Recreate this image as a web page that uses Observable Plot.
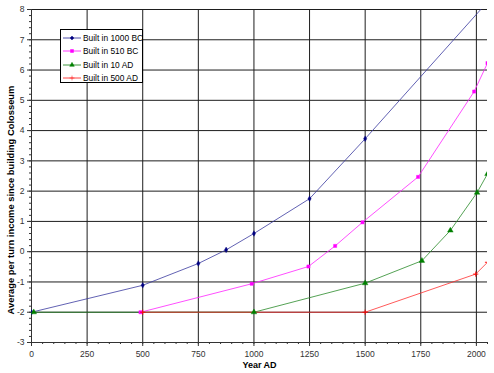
<!DOCTYPE html>
<html>
<head>
<meta charset="utf-8">
<script src="https://cdn.jsdelivr.net/npm/d3@7"></script>
<script src="https://cdn.jsdelivr.net/npm/@observablehq/plot@0.6"></script>
<style>
  html, body { margin: 0; padding: 0; background: #fff; }
  #wrap { position: relative; width: 494px; height: 373px; font-family: "Liberation Sans", Arial, sans-serif; }
  #legend { position: absolute; left: 60px; top: 29px; width: 83px; height: 54px; border: 1px solid #000; background: #fff; box-sizing: border-box; font-size: 8.4px; color: #000; }
  .row { position: absolute; left: 1px; height: 12px; display: flex; align-items: center; white-space: nowrap; }
  .row svg { margin-right: 1px; }
</style>
</head>
<body>
<div id="wrap"><div id="legend"></div></div>
<script>
// Series data (Year AD, average per turn income)
const seriesNames = ["Built in 1000 BC", "Built in 510 BC", "Built in 10 AD", "Built in 500 AD"];
const years1000BC = [0, 500, 750, 875, 1000, 1250, 1500, 2050];
const income1000BC = [-2, -1.11, -0.39, 0.06, 0.6, 1.75, 3.73, 8.25];
const years510BC = [490, 990, 1245, 1365, 1488, 1738, 1990, 2050];
const income510BC = [-2, -1.06, -0.49, 0.19, 0.97, 2.47, 5.29, 6.23];
const years10AD = [10, 1000, 1500, 1755, 1883, 2003, 2050];
const income10AD = [-2, -2, -1.04, -0.3, 0.7, 1.95, 2.57];
const years500AD = [500, 1500, 1997, 2050];
const income500AD = [-2, -2, -0.74, -0.35];
const xTicks = [0, 250, 500, 750, 1000, 1250, 1500, 1750, 2000];
const yTicks = [-3, -2, -1, 0, 1, 2, 3, 4, 5, 6, 7, 8];

const colors = ["#000080", "#ff00ff", "#008000", "#ff0000"];
const lineColors = ["#3a3aa0", "#ff22ff", "#2a8a2a", "#ff3030"];
const symbols = ["diamond", "square", "triangle", "plus"];
const radii = [1.7, 1.8, 2.1, 1.8];
const d3Symbols = {diamond: d3.symbolDiamond2, square: d3.symbolSquare, triangle: d3.symbolTriangle, plus: d3.symbolPlus};

const allYears = [years1000BC, years510BC, years10AD, years500AD];
const allIncome = [income1000BC, income510BC, income10AD, income500AD];
const data = [];
allYears.forEach((ys, i) => ys.forEach((y, j) => data.push({series: seriesNames[i], idx: i, year: y, income: allIncome[i][j]})));

const minorX = d3.range(0, 2051, 50);
const minorY = d3.range(-3, 8.001, 0.2).map(v => Math.round(v * 10) / 10);

const marks = [
  Plot.gridX(xTicks.filter(d => d > 0), {stroke: "#1e1e1e", strokeOpacity: 1}),
  Plot.gridY(yTicks.filter(d => d > -3), {stroke: "#1e1e1e", strokeOpacity: 1}),
  Plot.axisX(minorX, {tickSize: 2, tickFormat: () => "", label: null, stroke: "#333"}),
  Plot.axisX(xTicks, {tickSize: 4, tickPadding: 4, tickFormat: d => String(d), label: null, stroke: "#333", fill: "#333"}),
  Plot.axisY(minorY, {tickSize: 2, tickFormat: () => "", label: null, stroke: "#333"}),
  Plot.axisY(yTicks, {tickSize: 4, tickPadding: 3, tickFormat: d => String(d), label: null, stroke: "#333", fill: "#333"}),
  Plot.ruleX([0], {stroke: "#333"}),
  Plot.ruleY([-3], {stroke: "#333"}),
];
seriesNames.forEach((name, i) => {
  const d = data.filter(r => r.idx === i);
  marks.push(Plot.line(d, {x: "year", y: "income", stroke: lineColors[i], strokeWidth: 0.8, clip: true}));
});
seriesNames.forEach((name, i) => {
  const d = data.filter(r => r.idx === i);
  marks.push(Plot.dot(d, {x: "year", y: "income", symbol: () => symbols[i], r: radii[i],
    fill: symbols[i] === "plus" ? "none" : colors[i], stroke: colors[i], strokeWidth: symbols[i] === "plus" ? 0.9 : 0.4, clip: true}));
});
marks.push(Plot.text(["Year AD"], {frameAnchor: "bottom", dy: 25, fontWeight: "bold", fontSize: 9, fill: "#000"}));
marks.push(Plot.text(["Average per turn income since building Colosseum"], {frameAnchor: "left", textAnchor: "middle", rotate: -90, dx: -21, dy: 24, fontWeight: "bold", fontSize: 9.4, fill: "#000"}));

const chart = Plot.plot({
  width: 494, height: 373,
  marginLeft: 31, marginRight: 7, marginTop: 9, marginBottom: 31,
  style: {fontFamily: "'Liberation Sans', Arial, sans-serif", fontSize: "8.5px", background: "#fff", color: "#333"},
  x: {domain: [0, 2050]},
  y: {domain: [-3, 8]},
  marks
});
document.getElementById("wrap").prepend(chart);

// Legend
const legend = document.getElementById("legend");
seriesNames.forEach((name, i) => {
  const row = document.createElement("div");
  row.className = "row";
  row.style.top = (2 + i * 13.3) + "px";
  const svg = d3.create("svg").attr("width", 20).attr("height", 10);
  svg.append("line").attr("x1", 1).attr("x2", 19).attr("y1", 5).attr("y2", 5).attr("stroke", lineColors[i]).attr("stroke-width", 0.9);
  svg.append("path").attr("transform", "translate(10,5)")
    .attr("d", d3.symbol(d3Symbols[symbols[i]], 9)())
    .attr("fill", symbols[i] === "plus" ? "none" : colors[i]).attr("stroke", colors[i]).attr("stroke-width", 0.5);
  row.appendChild(svg.node());
  const span = document.createElement("span");
  span.textContent = name;
  row.appendChild(span);
  legend.appendChild(row);
});
</script>
</body>
</html>
